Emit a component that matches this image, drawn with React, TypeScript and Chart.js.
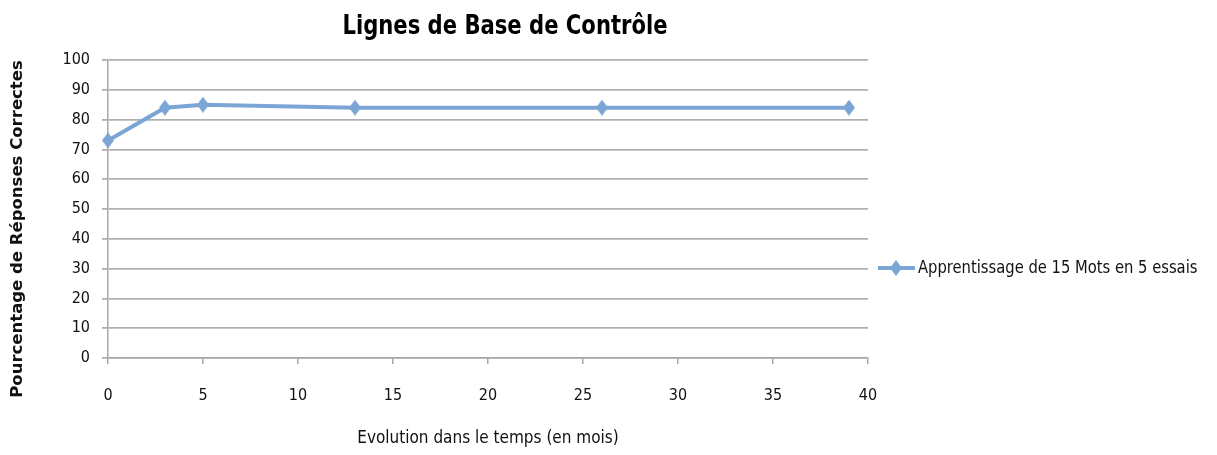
import React, { useEffect, useRef } from "react";
import { Chart, registerables } from "chart.js";

Chart.register(...registerables);

const chartTitle = "Lignes de Base de Contrôle";
const seriesLabel = "Apprentissage de 15 Mots en 5 essais";
const xAxisTitle = "Evolution dans le temps (en mois)";
const yAxisTitle = "Pourcentage de Réponses Correctes";
const months = [0, 3, 5, 13, 26, 39];
const percents = [73, 84, 85, 84, 84, 84];

const LINE_COLOR = "#7ba5d5";
const FONT = "'DejaVu Sans Condensed', 'Liberation Sans', sans-serif";

function makeDiamond(): HTMLCanvasElement {
  const c = document.createElement("canvas");
  c.width = 12;
  c.height = 16;
  const g = c.getContext("2d")!;
  g.fillStyle = LINE_COLOR;
  g.beginPath();
  g.moveTo(6, 0);
  g.lineTo(12, 8);
  g.lineTo(6, 16);
  g.lineTo(0, 8);
  g.closePath();
  g.fill();
  return c;
}

const overlayPlugin = {
  id: "overlay",
  afterDraw(chart: any) {
    const ctx = chart.ctx;
    ctx.save();
    // title
    ctx.fillStyle = "#000";
    ctx.font = `bold 27px ${FONT}`;
    ctx.textAlign = "center";
    ctx.textBaseline = "middle";
    ctx.save();
    ctx.translate(505, 27);
    ctx.scale(0.87, 1);
    ctx.fillText(chartTitle, 0, 0);
    ctx.restore();
    // y axis title
    ctx.save();
    ctx.translate(18, 229);
    ctx.rotate(-Math.PI / 2);
    ctx.font = "bold 16.5px 'DejaVu Sans', sans-serif";
    ctx.fillStyle = "#111";
    ctx.fillText(yAxisTitle, 0, 0);
    ctx.restore();
    // legend
    const ly = 268;
    ctx.strokeStyle = LINE_COLOR;
    ctx.lineWidth = 4;
    ctx.beginPath();
    ctx.moveTo(878, ly);
    ctx.lineTo(915, ly);
    ctx.stroke();
    ctx.fillStyle = LINE_COLOR;
    ctx.beginPath();
    ctx.moveTo(896, ly - 8);
    ctx.lineTo(902, ly);
    ctx.lineTo(896, ly + 8);
    ctx.lineTo(890, ly);
    ctx.closePath();
    ctx.fill();
    ctx.fillStyle = "#111";
    ctx.font = `17px ${FONT}`;
    ctx.textAlign = "left";
    ctx.save();
    ctx.translate(918, ly + 1);
    ctx.scale(0.965, 1);
    ctx.fillText(seriesLabel, 0, 0);
    ctx.restore();
    ctx.restore();
  },
};

export default function App() {
  const ref = useRef<HTMLCanvasElement>(null);
  useEffect(() => {
    if (!ref.current) return;
    const diamond = makeDiamond();
    const chart = new Chart(ref.current, {
      type: "line",
      data: {
        datasets: [
          {
            label: seriesLabel,
            data: months.map((m, i) => ({ x: m, y: percents[i] })),
            borderColor: LINE_COLOR,
            backgroundColor: LINE_COLOR,
            borderWidth: 4,
            pointStyle: diamond as any,
            pointRadius: 7,
            pointHoverRadius: 7,
            tension: 0,
            clip: false as any,
          },
        ],
      },
      options: {
        animation: false,
        responsive: false,
        maintainAspectRatio: false,
        layout: { padding: { left: 0, top: 60, right: 349, bottom: 0 } },
        plugins: {
          legend: { display: false },
          title: { display: false },
          tooltip: { enabled: false },
        },
        scales: {
          x: {
            type: "linear",
            min: 0,
            max: 40,
            afterFit: (s: any) => {
              s.height = 97;
            },
            ticks: {
              stepSize: 5,
              padding: 22,
              color: "#111",
              font: { family: FONT, size: 16 },
            },
            grid: {
              drawOnChartArea: false,
              drawTicks: true,
              tickLength: 6,
              color: "#a8a8a8",
              lineWidth: 1.5,
            },
            border: { color: "#a8a8a8", width: 1.5 },
            title: {
              display: true,
              text: xAxisTitle,
              color: "#111",
              font: { family: FONT, size: 17 },
              padding: { top: 0, bottom: 6 },
            },
          },
          y: {
            min: 0,
            max: 100,
            afterFit: (s: any) => {
              s.width = 108;
            },
            ticks: {
              stepSize: 10,
              padding: 12,
              color: "#111",
              font: { family: FONT, size: 16 },
            },
            grid: {
              color: "#b0b0b0",
              lineWidth: 1.8,
              tickLength: 6,
            },
            border: { color: "#a8a8a8", width: 1.5 },
            title: { display: false },
          },
        },
      },
      plugins: [overlayPlugin],
    });
    return () => chart.destroy();
  }, []);
  return (
    <div style={{ position: "fixed", left: 0, top: 0, width: 1217, height: 455, background: "#fff" }}>
      <canvas ref={ref} width={1217} height={455} style={{ display: "block" }} />
    </div>
  );
}
